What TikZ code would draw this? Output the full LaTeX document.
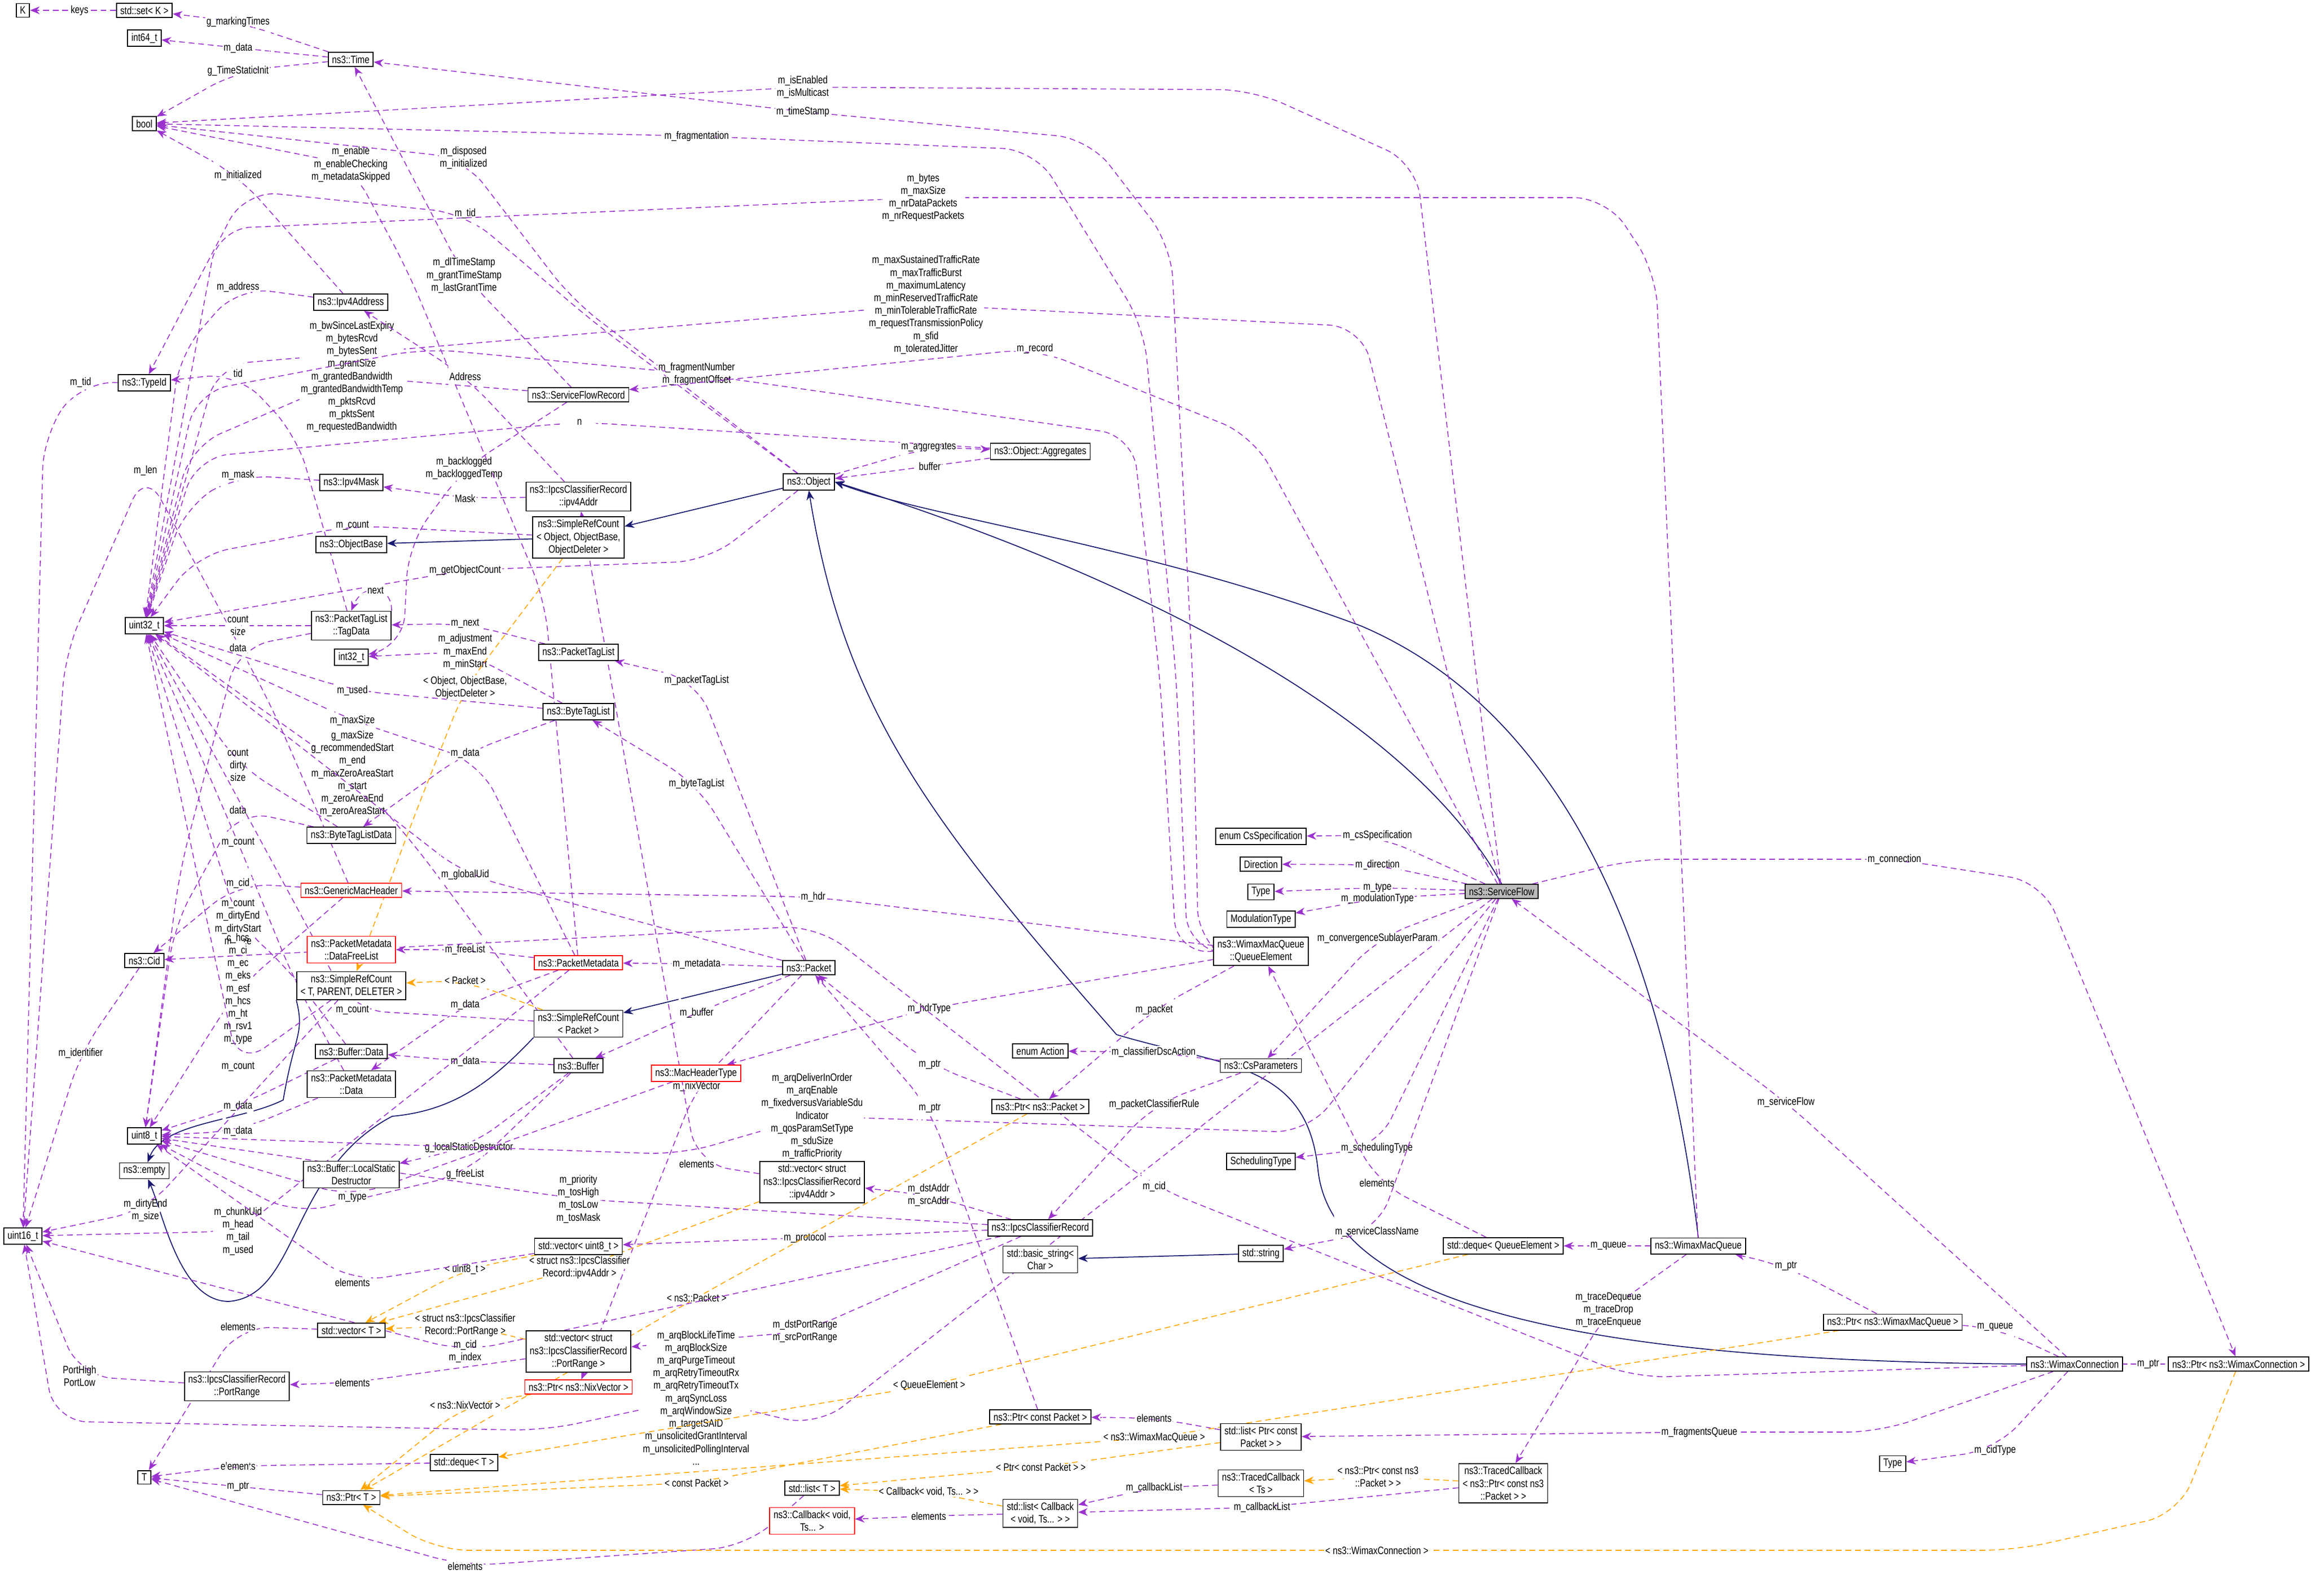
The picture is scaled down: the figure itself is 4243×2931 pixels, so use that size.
\documentclass[tikz,border=0pt]{standalone}
\usepackage{fontspec}
\setmainfont{Liberation Sans}[FakeStretch=0.8]
\usetikzlibrary{arrows.meta,backgrounds}
\definecolor{purp}{HTML}{9A32CD}
\definecolor{orng}{HTML}{FFA500}
\definecolor{navy}{HTML}{191970}
\newcommand\nf{\fontsize{5.6}{6.6}\selectfont}
\tikzset{
 nd/.style={draw,fill=white,font=\nf,inner xsep=2pt,inner ysep=1.6pt,align=center,line width=0.5pt},
 rednode/.style={nd,draw=red},
 lbl/.style={font=\nf,fill=white,inner sep=0.6pt,align=center},
 dep/.style={draw=purp,dash pattern=on 3pt off 2pt,-{Stealth[length=5pt,width=4pt]},rounded corners=0.6cm,line width=0.45pt},
 tmpl/.style={draw=orng,dash pattern=on 3pt off 2pt,-{Stealth[length=5pt,width=4pt]},rounded corners=0.6cm,line width=0.45pt},
 inh/.style={draw=navy,-{Stealth[length=5pt,width=4pt]},line width=0.5pt}
}
\begin{document}
\begin{tikzpicture}[x=0.01cm,y=-0.01cm]
\useasboundingbox (0,0) rectangle (4243,2931);
% nodes
\node[nd] (K) at (42,19) {K};
\node[nd] (setK) at (265,19) {std::set< K >};
\node[nd] (int64) at (265,70) {int64\_t};
\node[nd] (time) at (644,109) {ns3::Time};
\node[nd] (bool) at (265,227) {bool};
\node[nd] (typeid) at (265,703) {ns3::TypeId};
\node[nd] (ipv4addr) at (644,555) {ns3::Ipv4Address};
\node[nd] (sfr) at (1062,725) {ns3::ServiceFlowRecord};
\node[nd] (ipv4mask) at (645,886) {ns3::Ipv4Mask};
\node[nd] (ipv4addrrec) at (1062,912) {ns3::IpcsClassifierRecord\\::ipv4Addr};
\node[nd] (object) at (1485,885) {ns3::Object};
\node[nd] (srcobj) at (1062,987) {ns3::SimpleRefCount\\< Object, ObjectBase,\\ObjectDeleter >};
\node[nd] (objectbase) at (645,1000) {ns3::ObjectBase};
\node[nd] (aggr) at (1910,829) {ns3::Object::Aggregates};
\node[nd] (u32) at (265,1149) {uint32\_t};
\node[nd] (tagdata) at (645,1149) {ns3::PacketTagList\\::TagData};
\node[nd] (i32) at (645,1207) {int32\_t};
\node[nd] (ptl) at (1062,1198) {ns3::PacketTagList};
\node[nd] (btl) at (1062,1307) {ns3::ByteTagList};
\node[nd] (btld) at (645,1534) {ns3::ByteTagListData};
\node[rednode] (gmh) at (645,1635) {ns3::GenericMacHeader};
\node[nd] (cid) at (265,1764) {ns3::Cid};
\node[rednode] (dfl) at (645,1744) {ns3::PacketMetadata\\::DataFreeList};
\node[nd] (srctpd) at (645,1810) {ns3::SimpleRefCount\\< T, PARENT, DELETER >};
\node[rednode] (pm) at (1062,1768) {ns3::PacketMetadata};
\node[nd] (packet) at (1485,1777) {ns3::Packet};
\node[nd] (srcpkt) at (1062,1880) {ns3::SimpleRefCount\\< Packet >};
\node[nd] (bufdata) at (645,1931) {ns3::Buffer::Data};
\node[nd] (buffer) at (1062,1957) {ns3::Buffer};
\node[rednode] (mht) at (1278,1971) {ns3::MacHeaderType};
\node[nd] (pmdata) at (645,1991) {ns3::PacketMetadata\\::Data};
\node[nd] (u8) at (265,2086) {uint8\_t};
\node[nd] (empty) at (265,2150) {ns3::empty};
\node[nd] (lsd) at (645,2157) {ns3::Buffer::LocalStatic\\Destructor};
\node[nd] (u16) at (42,2270) {uint16\_t};
\node[nd] (vecu8) at (1062,2289) {std::vector< uint8\_t >};
\node[nd] (vecT) at (645,2443) {std::vector< T >};
\node[nd] (vecpr) at (1062,2482) {std::vector< struct\\ns3::IpcsClassifierRecord\\::PortRange >};
\node[nd] (portrange) at (435,2546) {ns3::IpcsClassifierRecord\\::PortRange};
\node[rednode] (ptrnix) at (1062,2547) {ns3::Ptr< ns3::NixVector >};
\node[nd] (dequeT) at (852,2686) {std::deque< T >};
\node[nd] (T) at (265,2713) {T};
\node[nd] (ptrT) at (645,2750) {ns3::Ptr< T >};
\node[nd] (vecip) at (1491,2171) {std::vector< struct\\ns3::IpcsClassifierRecord\\::ipv4Addr >};
\node[nd] (cs) at (2315,1536) {enum CsSpecification};
\node[nd] (dir) at (2315,1587) {Direction};
\node[nd] (type1) at (2315,1638) {Type};
\node[nd] (modtype) at (2315,1688) {ModulationType};
\node[nd,fill=black!27] (sf) at (2757,1637) {ns3::ServiceFlow};
\node[nd] (qe) at (2315,1747) {ns3::WimaxMacQueue\\::QueueElement};
\node[nd] (action) at (1910,1930) {enum Action};
\node[nd] (csp) at (2315,1957) {ns3::CsParameters};
\node[nd] (ptrpkt) at (1910,2032) {ns3::Ptr< ns3::Packet >};
\node[nd] (schedtype) at (2315,2133) {SchedulingType};
\node[nd] (icr) at (1910,2255) {ns3::IpcsClassifierRecord};
\node[nd] (basicstr) at (1910,2313) {std::basic\_string<\\Char >};
\node[nd] (stdstr) at (2315,2302) {std::string};
\node[nd] (dequeqe) at (2760,2288) {std::deque< QueueElement >};
\node[nd] (ptrcpkt) at (1910,2602) {ns3::Ptr< const Packet >};
\node[nd] (listpcp) at (2315,2639) {std::list< Ptr< const\\Packet > >};
\node[nd] (tcts) at (2315,2724) {ns3::TracedCallback\\< Ts >};
\node[nd] (listT) at (1491,2733) {std::list< T >};
\node[nd] (listcb) at (1910,2779) {std::list< Callback\\< void, Ts... > >};
\node[rednode] (cb) at (1491,2793) {ns3::Callback< void,\\Ts... >};
\node[nd] (tcptr) at (2760,2724) {ns3::TracedCallback\\< ns3::Ptr< const ns3\\::Packet > >};
\node[nd] (wmq) at (3118,2288) {ns3::WimaxMacQueue};
\node[nd] (ptrwmq) at (3475,2428) {ns3::Ptr< ns3::WimaxMacQueue >};
\node[nd] (wc) at (3809,2505) {ns3::WimaxConnection};
\node[nd] (ptrwc) at (4110,2505) {ns3::Ptr< ns3::WimaxConnection >};
\node[nd] (type2) at (3475,2688) {Type};
\begin{scope}[on background layer]
% inheritance
\draw[inh] (srcobj) -- (objectbase);
\draw[inh] (object) -- (srcobj);
\draw[inh] (sf.north) .. controls (2550,1250) and (1900,1000) .. (object.east);
\draw[inh] (wmq.north) .. controls (3050,1700) and (2850,1300) .. (2500,1150) .. controls (2100,1000) and (1700,950) .. (object.east);
\draw[inh] (wc.west) .. controls (3000,2500) and (2450,2420) .. (2420,2150) .. controls (2400,1950) and (2250,1960) .. (2050,1900) .. controls (1700,1500) and (1550,1300) .. (object.south);
\draw[inh] (packet) -- (srcpkt);
\draw[inh] (srctpd.south west) .. controls (560,1900) and (540,1900) .. (520,2020) .. controls (440,2060) and (300,2060) .. (empty);
\draw[inh] (srcpkt.south west) .. controls (900,1990) and (830,2040) .. (720,2050) .. controls (530,2150) and (550,2380) .. (420,2390) .. controls (330,2390) and (300,2230) .. (empty);
\draw[inh] (stdstr) -- (basicstr);
% usage
\draw[dep] (setK) -- (146,19) node[lbl]{keys} -- (K);
\draw[dep] (time) -- (437,40) node[lbl]{g\_markingTimes} -- (setK);
\draw[dep] (time) -- (437,88) node[lbl]{m\_data} -- (int64);
\draw[dep] (time) -- (437,130) node[lbl]{g\_TimeStaticInit} -- (bool);
\draw[dep] (sf) -- (2600,300) -- (2300,165) -- (1474,160) node[lbl]{m\_isEnabled\\m\_isMulticast} -- (bool);
\draw[dep] (qe.west) -- (2200,1730) -- (2190,1250) -- (2150,450) -- (2000,255) -- (1474,205) node[lbl]{m\_timeStamp} -- (time);
\draw[dep] (qe.west) -- (2180,1740) -- (2160,1250) -- (2100,600) -- (1900,275) -- (1279,250) node[lbl]{m\_fragmentation} -- (bool);
\draw[dep] (pm) -- (1000,1100) -- (750,500) -- (644,302) node[lbl]{m\_enable\\m\_enableChecking\\m\_metadataSkipped} -- (bool);
\draw[dep] (object) -- (1050,550) -- (851,290) node[lbl]{m\_disposed\\m\_initialized} -- (bool);
\draw[dep] (ipv4addr) -- (437,322) node[lbl]{m\_initialized} -- (bool);
\draw[dep] (object) -- (1100,600) -- (854,392) node[lbl]{m\_tid} -- (450,350) -- (typeid);
\draw[dep] (wmq) -- (3040,500) -- (2950,363) -- (1695,363) node[lbl]{m\_bytes\\m\_maxSize\\m\_nrDataPackets\\m\_nrRequestPackets} -- (400,420) -- (u32);
\draw[dep] (sf) -- (2500,600) -- (1700,560) node[lbl]{m\_maxSustainedTrafficRate\\m\_maxTrafficBurst\\m\_maximumLatency\\m\_minReservedTrafficRate\\m\_minTolerableTrafficRate\\m\_requestTransmissionPolicy\\m\_sfid\\m\_toleratedJitter} -- (400,670) -- (u32);
\draw[dep] (sfr) -- (852,506) node[lbl]{m\_dlTimeStamp\\m\_grantTimeStamp\\m\_lastGrantTime} -- (time);
\draw[dep] (ipv4addr) -- (437,527) node[lbl]{m\_address} -- (330,650) -- (u32);
\draw[dep] (sfr) -- (646,692) node[lbl]{m\_bwSinceLastExpiry\\m\_bytesRcvd\\m\_bytesSent\\m\_grantSize\\m\_grantedBandwidth\\m\_grantedBandwidthTemp\\m\_pktsRcvd\\m\_pktsSent\\m\_requestedBandwidth} -- (350,820) -- (u32);
\draw[dep] (tagdata) -- (545,800) -- (437,685) node[lbl]{tid} -- (typeid);
\draw[dep] (typeid) -- (148,702) node[lbl]{m\_tid} -- (80,800) -- (u16);
\draw[dep] (ipv4addrrec) -- (854,691) node[lbl]{Address} -- (ipv4addr);
\draw[dep] (qe.west) -- (2160,1750) -- (2130,1250) -- (2080,800) -- (1279,687) node[lbl]{m\_fragmentNumber\\m\_fragmentOffset} -- (780,640) -- (360,720) -- (u32);
\draw[dep] (sf) -- (2300,800) -- (1900,640) node[lbl]{m\_record} -- (sfr);
\draw[dep] (aggr) -- (1064,775) node[lbl]{n} -- (360,840) -- (u32);
\draw[dep] (gmh) -- (500,1300) -- (267,864) node[lbl]{m\_len} -- (120,1200) -- (u16);
\draw[dep] (ipv4mask) -- (437,872) node[lbl]{m\_mask} -- (340,930) -- (u32);
\draw[dep] (sfr) -- (852,860) node[lbl]{m\_backlogged\\m\_backloggedTemp} -- (750,1000) -- (740,1190) -- (i32);
\draw[dep] (ipv4addrrec) -- (854,915) node[lbl]{Mask} -- (ipv4mask);
\draw[dep] (srcobj) -- (647,965) node[lbl]{m\_count} -- (360,1020) -- (u32);
\draw[dep] (object) -- (1300,1030) -- (854,1047) node[lbl]{m\_getObjectCount} -- (u32);
\draw[dep] (tagdata.north east) .. controls +(0,-50) and +(20,-50) .. node[lbl,pos=0.5]{next} (tagdata.north);
\draw[dep] (tagdata) -- (437,1149) node[lbl]{count\\size} -- (u32);
\draw[dep] (ptl) -- (854,1145) node[lbl]{m\_next} -- (tagdata);
\draw[dep] (tagdata) -- (437,1189) node[lbl]{data} -- (330,1600) -- (u8);
\draw[dep] (btl) -- (854,1197) node[lbl]{m\_adjustment\\m\_maxEnd\\m\_minStart} -- (i32);
\draw[dep] (btl) -- (647,1268) node[lbl]{m\_used} -- (u32);
\draw[dep] (packet) -- (1279,1249) node[lbl]{m\_packetTagList} -- (ptl);
\draw[dep] (pm) -- (880,1400) -- (647,1323) node[lbl]{m\_maxSize} -- (u32);
\draw[dep] (btl) -- (854,1383) node[lbl]{m\_data} -- (btld);
\draw[dep] (buffer) -- (760,1550) -- (647,1421) node[lbl]{g\_maxSize\\g\_recommendedStart\\m\_end\\m\_maxZeroAreaStart\\m\_start\\m\_zeroAreaEnd\\m\_zeroAreaStart} -- (u32);
\draw[dep] (btld) -- (437,1405) node[lbl]{count\\dirty\\size} -- (u32);
\draw[dep] (packet) -- (1279,1439) node[lbl]{m\_byteTagList} -- (btl);
\draw[dep] (btld) -- (437,1487) node[lbl]{data} -- (320,1700) -- (u8);
\draw[dep] (pmdata) -- (540,1800) -- (437,1547) node[lbl]{m\_count} -- (u32);
\draw[dep] (packet) -- (854,1606) node[lbl]{m\_globalUid} -- (u32);
\draw[dep] (gmh) -- (437,1622) node[lbl]{m\_cid} -- (cid);
\draw[dep] (qe) -- (1493,1647) node[lbl]{m\_hdr} -- (gmh);
\draw[dep] (bufdata) -- (530,1780) -- (437,1695) node[lbl]{m\_count\\m\_dirtyEnd\\m\_dirtyStart\\m\_size} -- (u32);
\draw[dep] (gmh) -- (437,1816) node[lbl]{c\_hcs\\m\_ci\\m\_ec\\m\_eks\\m\_esf\\m\_hcs\\m\_ht\\m\_rsv1\\m\_type} -- (u8);
\draw[dep] (pm) -- (854,1744) node[lbl]{m\_freeList} -- (dfl);
\draw[tmpl] (srcpkt) -- (854,1800) node[lbl]{< Packet >} -- (srctpd);
\draw[tmpl] (srcobj) -- (854,1263) node[lbl]{< Object, ObjectBase,\\ObjectDeleter >} -- (760,1500) -- (srctpd);
\draw[dep] (packet) -- (1279,1770) node[lbl]{m\_metadata} -- (pm);
\draw[dep] (pm) -- (854,1845) node[lbl]{m\_data} -- (pmdata);
\draw[dep] (srcpkt) -- (647,1855) node[lbl]{m\_count} -- (u32);
\draw[dep] (packet) -- (1279,1860) node[lbl]{m\_buffer} -- (buffer);
\draw[dep] (cid) -- (148,1934) node[lbl]{m\_identifier} -- (u16);
\draw[dep] (buffer) -- (854,1949) node[lbl]{m\_data} -- (bufdata);
\draw[dep] (srctpd) -- (437,1959) node[lbl]{m\_count} -- (u32);
\draw[dep] (packet) -- (1279,1995) node[lbl]{m\_nixVector} -- (ptrnix);
\draw[dep] (bufdata) -- (437,2031) node[lbl]{m\_data} -- (u8);
\draw[dep] (pmdata) -- (437,2077) node[lbl]{m\_data} -- (u8);
\draw[dep] (buffer) -- (861,2107) node[lbl]{g\_localStaticDestructor} -- (lsd);
\draw[dep] (buffer) -- (854,2156) node[lbl]{g\_freeList} -- (540,2230) -- (u8);
\draw[dep] (mht) -- (647,2199) node[lbl]{m\_type} -- (u8);
\draw[dep] (srctpd) -- (267,2223) node[lbl]{m\_dirtyEnd\\m\_size} -- (u16);
\draw[dep] (pm) -- (437,2261) node[lbl]{m\_chunkUid\\m\_head\\m\_tail\\m\_used} -- (u16);
\draw[dep] (icr) -- (1062,2202) node[lbl]{m\_priority\\m\_tosHigh\\m\_tosLow\\m\_tosMask} -- (u8);
\draw[dep] (vecip) -- (1279,2137) node[lbl]{elements} -- (ipv4addrrec);
\draw[dep] (icr) -- (1478,2273) node[lbl]{m\_protocol} -- (vecu8);
\draw[tmpl] (vecip) -- (1064,2328) node[lbl]{< struct ns3::IpcsClassifier\\Record::ipv4Addr >} -- (vecT);
\draw[tmpl] (vecu8) -- (854,2331) node[lbl]{< uint8\_t >} -- (vecT);
\draw[dep] (vecu8) -- (647,2355) node[lbl]{elements} -- (u8);
\draw[tmpl] (ptrpkt) -- (1279,2383) node[lbl]{< ns3::Packet >} -- (ptrT);
\draw[dep] (vecT) -- (437,2436) node[lbl]{elements} -- (T);
\draw[tmpl] (vecpr) -- (854,2434) node[lbl]{< struct ns3::IpcsClassifier\\Record::PortRange >} -- (vecT);
\draw[dep] (icr) -- (1478,2445) node[lbl]{m\_dstPortRange\\m\_srcPortRange} -- (vecpr);
\draw[dep] (icr) -- (854,2482) node[lbl]{m\_cid\\m\_index} -- (u16);
\draw[dep] (portrange) -- (146,2527) node[lbl]{PortHigh\\PortLow} -- (u16);
\draw[dep] (vecpr) -- (647,2539) node[lbl]{elements} -- (portrange);
\draw[dep] (sf) -- (1500,2620) -- (1278,2567) node[lbl]{m\_arqBlockLifeTime\\m\_arqBlockSize\\m\_arqPurgeTimeout\\m\_arqRetryTimeoutRx\\m\_arqRetryTimeoutTx\\m\_arqSyncLoss\\m\_arqWindowSize\\m\_targetSAID\\m\_unsolicitedGrantInterval\\m\_unsolicitedPollingInterval\\...} -- (1000,2627) -- (100,2610) -- (u16);
\draw[tmpl] (ptrnix) -- (854,2580) node[lbl]{< ns3::NixVector >} -- (ptrT);
\draw[dep] (dequeT) -- (437,2692) node[lbl]{elements} -- (T);
\draw[dep] (ptrT) -- (437,2730) node[lbl]{m\_ptr} -- (T);
\draw[tmpl] (ptrcpkt) -- (1279,2723) node[lbl]{< const Packet >} -- (ptrT);
\draw[dep] (listT) -- (1370,2840) -- (854,2876) node[lbl]{elements} -- (T);
\draw[dep] (object) -- (1705,821) node[lbl]{m\_aggregates} -- (aggr);
\draw[dep] (aggr) -- (1707,856) node[lbl]{buffer} -- (object);
\draw[dep] (sf) -- (2529,1534) node[lbl]{m\_csSpecification} -- (cs);
\draw[dep] (sf) -- (2529,1588) node[lbl]{m\_direction} -- (dir);
\draw[dep] (sf) -- (2529,1630) node[lbl]{m\_type} -- (type1);
\draw[dep] (sf) -- (2529,1650) node[lbl]{m\_modulationType} -- (modtype);
\draw[dep] (sf) -- (2529,1723) node[lbl]{m\_convergenceSublayerParam} -- (csp);
\draw[dep] (qe) -- (1706,1852) node[lbl]{m\_hdrType} -- (mht);
\draw[dep] (qe) -- (2119,1854) node[lbl]{m\_packet} -- (ptrpkt);
\draw[dep] (ptrpkt) -- (1707,1955) node[lbl]{m\_ptr} -- (packet);
\draw[dep] (csp) -- (2118,1932) node[lbl]{m\_classifierDscAction} -- (action);
\draw[dep] (sf) -- (2400,2080) -- (1491,2050) node[lbl]{m\_arqDeliverInOrder\\m\_arqEnable\\m\_fixedversusVariableSdu\\Indicator\\m\_qosParamSetType\\m\_sduSize\\m\_trafficPriority} -- (1250,2120) -- (u8);
\draw[dep] (ptrcpkt) -- (1707,2035) node[lbl]{m\_ptr} -- (packet);
\draw[dep] (csp) -- (2119,2028) node[lbl]{m\_packetClassifierRule} -- (icr);
\draw[dep] (sf) -- (2528,2108) node[lbl]{m\_schedulingType} -- (schedtype);
\draw[dep] (dequeqe) -- (2528,2172) node[lbl]{elements} -- (qe);
\draw[dep] (wc) -- (3000,2530) -- (2119,2179) node[lbl]{m\_cid} -- (1500,1700) -- (cid);
\draw[dep] (icr) -- (1705,2195) node[lbl]{m\_dstAddr\\m\_srcAddr} -- (vecip);
\draw[dep] (sf) -- (2528,2262) node[lbl]{m\_serviceClassName} -- (stdstr);
\draw[tmpl] (dequeqe) -- (1706,2544) node[lbl]{< QueueElement >} -- (dequeT);
\draw[dep] (listpcp) -- (2119,2604) node[lbl]{elements} -- (ptrcpkt);
\draw[tmpl] (ptrwmq) -- (2119,2640) node[lbl]{< ns3::WimaxMacQueue >} -- (ptrT);
\draw[tmpl] (listpcp) -- (1911,2694) node[lbl]{< Ptr< const Packet > >} -- (listT);
\draw[tmpl] (tcptr) -- (2530,2712) node[lbl]{< ns3::Ptr< const ns3\\::Packet > >} -- (tcts);
\draw[dep] (tcts) -- (2119,2732) node[lbl]{m\_callbackList} -- (listcb);
\draw[tmpl] (listcb) -- (1705,2740) node[lbl]{< Callback< void, Ts... > >} -- (listT);
\draw[dep] (tcptr) -- (2317,2768) node[lbl]{m\_callbackList} -- (listcb);
\draw[dep] (listcb) -- (1705,2784) node[lbl]{elements} -- (cb);
\draw[tmpl] (ptrwc) -- (4000,2780) -- (3700,2847) -- (2528,2847) node[lbl]{< ns3::WimaxConnection >} -- (800,2847) -- (ptrT);
\draw[dep] (sf) -- (3000,1578) -- (3478,1578) node[lbl]{m\_connection} -- (3750,1620) -- (ptrwc);
\draw[dep] (wc) -- (3279,2024) node[lbl]{m\_serviceFlow} -- (sf);
\draw[dep] (wmq) -- (2953,2288) node[lbl]{m\_queue} -- (dequeqe);
\draw[dep] (ptrwmq) -- (3279,2325) node[lbl]{m\_ptr} -- (wmq);
\draw[dep] (wmq) -- (2953,2406) node[lbl]{m\_traceDequeue\\m\_traceDrop\\m\_traceEnqueue} -- (tcptr);
\draw[dep] (wc) -- (3663,2437) node[lbl]{m\_queue} -- (ptrwmq);
\draw[dep] (ptrwc) -- (3944,2505) node[lbl]{m\_ptr} -- (wc);
\draw[dep] (wc) -- (3450,2630) -- (3120,2630) node[lbl]{m\_fragmentsQueue} -- (listpcp);
\draw[dep] (wc) -- (3663,2663) node[lbl]{m\_cidType} -- (type2);
\end{scope}
\end{tikzpicture}
\end{document}
